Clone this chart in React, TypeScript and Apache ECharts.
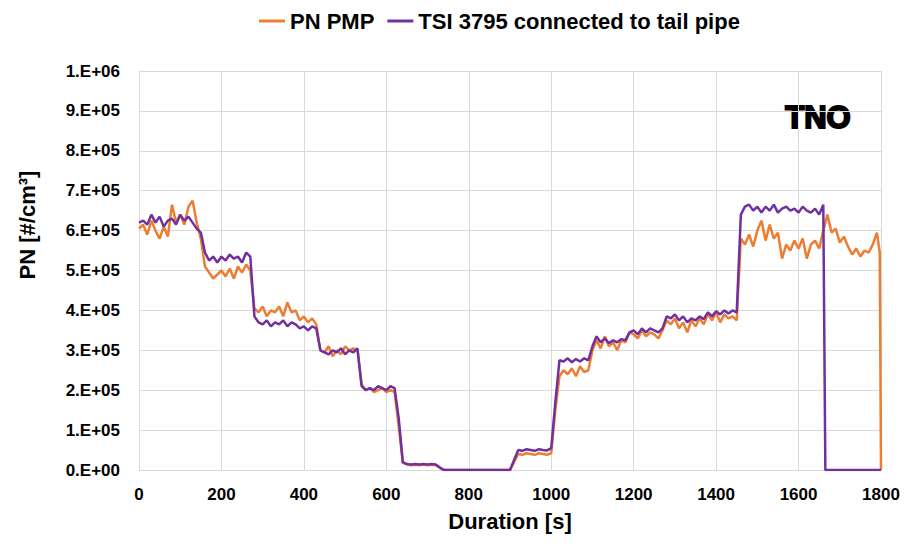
import React, { useEffect, useRef } from "react";
import * as echarts from "echarts";

// Duration [s] sample times
const durationS = [
  0, 10, 20, 30, 40, 50, 60, 70, 80, 90,
  100, 110, 120, 130, 140, 150, 160, 170, 180, 190,
  200, 210, 220, 230, 240, 250, 260, 270, 280, 290,
  300, 310, 320, 330, 340, 350, 360, 370, 380, 390,
  400, 410, 420, 430, 440, 450, 460, 470, 480, 490,
  500, 510, 520, 530, 540, 550, 560, 570, 580, 590,
  600, 610, 620, 630, 640, 650, 660, 670, 680, 690,
  700, 710, 720, 730, 740, 750, 760, 770, 780, 790,
  800, 810, 820, 830, 840, 850, 860, 870, 880, 890,
  900, 910, 920, 930, 940, 950, 960, 970, 980, 990,
  1000, 1010, 1020, 1030, 1040, 1050, 1060, 1070, 1080, 1090,
  1100, 1110, 1120, 1130, 1140, 1150, 1160, 1170, 1180, 1190,
  1200, 1210, 1220, 1230, 1240, 1250, 1260, 1270, 1280, 1290,
  1300, 1310, 1320, 1330, 1340, 1350, 1360, 1370, 1380, 1390,
  1400, 1410, 1420, 1430, 1440, 1450, 1460, 1470, 1480, 1490,
  1500, 1510, 1520, 1530, 1540, 1550, 1560, 1570, 1580, 1590,
  1600, 1610, 1620, 1630, 1640, 1650, 1660,
  1665,
  1670, 1680, 1690, 1700, 1710, 1720, 1730, 1740, 1750, 1760, 1770, 1780, 1790,
  1797, 1800,
];

// PN PMP, thousands of #/cm3
const pnPmpK = [
  605, 615, 590, 625, 600, 580, 610, 585, 665, 620,
  640, 615, 660, 675, 620, 580, 510, 495, 480, 490,
  500, 485, 505, 480, 510, 495, 515, 500, 405, 395,
  410, 385, 400, 395, 410, 385, 420, 395, 400, 375,
  385, 370, 380, 365, 300, 295, 310, 285, 300, 290,
  310, 300, 305, 300, 215, 200, 205, 195, 200, 205,
  195, 200, 195, 110, 18, 14, 12, 13, 12, 14,
  12, 13, 12, 5, 0, 0, 0, 0, 0, 0,
  0, 0, 0, 0, 0, 0, 0, 0, 0, 0,
  0, 20, 40, 38, 42, 40, 38, 42, 40, 38,
  42, 150, 235, 250, 240, 255, 235, 260, 245, 250,
  300, 325, 305, 335, 310, 320, 300, 325, 320, 345,
  340, 330, 350, 335, 345, 340, 330, 350, 375, 365,
  380, 355, 370, 345, 375, 360, 380, 365, 390, 375,
  395, 370, 390, 380, 385, 375, 580, 565, 590, 560,
  600, 625, 575, 615, 580, 595, 530, 565, 550, 575,
  555, 580, 530, 565, 575, 555, 600,
  620,
  640, 595, 605, 570, 585, 560, 540, 555, 535, 550, 545, 565, 595,
  545, 0,
];

// TSI 3795 connected to tail pipe, thousands of #/cm3
const tsiK = [
  620, 625, 615, 640, 620, 635, 610, 625, 630, 615,
  640, 625, 635, 620, 605, 595, 545, 525, 535, 520,
  535, 525, 540, 530, 535, 520, 545, 535, 385, 370,
  365, 375, 360, 370, 365, 375, 360, 370, 365, 355,
  360, 350, 360, 355, 300, 295, 290, 300, 295, 305,
  290, 300, 295, 305, 210, 200, 205, 200, 210, 205,
  200, 210, 205, 130, 20, 15, 14, 15, 14, 15,
  14, 15, 14, 6, 0, 0, 0, 0, 0, 0,
  0, 0, 0, 0, 0, 0, 0, 0, 0, 0,
  0, 25, 50, 48, 52, 50, 48, 52, 50, 49,
  55, 170, 275, 272, 280, 270, 278, 272, 280, 275,
  310, 335, 320, 330, 318, 325, 320, 328, 325, 345,
  350, 340, 355, 345, 355, 350, 345, 355, 385, 380,
  390, 375, 385, 370, 380, 375, 385, 378, 395, 385,
  398, 390, 400, 392, 400, 395, 640, 660, 665, 650,
  660, 645, 660, 650, 665, 645, 655, 660, 650, 655,
  645, 660, 650, 645, 655, 640, 665,
  0,
  0, 0, 0, 0, 0, 0, 0, 0, 0, 0, 0, 0, 0,
  0, 0,
];

const seriesNames = ["PN PMP", "TSI 3795 connected to tail pipe"];
const seriesColors = ["#ED7D31", "#7030A0"];

const FONT = "'Liberation Sans', Arial, sans-serif";

function sciLabel(v: number): string {
  if (v === 0) return "0.E+00";
  const e = Math.floor(Math.log10(v) + 1e-9);
  const m = Math.round(v / Math.pow(10, e));
  return `${m}.E+${e < 10 ? "0" + e : e}`;
}

export default function App() {
  const ref = useRef<HTMLDivElement>(null);
  useEffect(() => {
    if (!ref.current) return;
    const chart = echarts.init(ref.current, undefined, { renderer: "svg" });
    const toData = (arr: number[]) => durationS.map((t, i) => [t, arr[i] * 1000]);
    chart.setOption({
      animation: false,
      backgroundColor: "#ffffff",
      grid: { left: 139, right: 28, top: 71, bottom: 74, containLabel: false },
      legend: {
        left: 254,
        top: 5,
        itemWidth: 26,
        itemHeight: 3,
        itemGap: 13,
        icon: "rect",
        textStyle: { fontFamily: FONT, fontWeight: "bold", fontSize: 22, color: "#000" },
        data: seriesNames,
      },
      xAxis: {
        type: "value",
        min: 0,
        max: 1800,
        interval: 200,
        axisLine: { show: true, lineStyle: { color: "#d9d9d9", width: 1 } },
        axisTick: { show: false },
        splitLine: { show: true, lineStyle: { color: "#d9d9d9", width: 1 } },
        axisLabel: {
          margin: 16,
          fontFamily: FONT,
          fontWeight: "bold",
          fontSize: 17,
          color: "#000",
          formatter: (v: number) => String(v),
        },
      },
      yAxis: {
        type: "value",
        min: 0,
        max: 1000000,
        interval: 100000,
        axisLine: { show: true, lineStyle: { color: "#d9d9d9", width: 1 } },
        axisTick: { show: false },
        splitLine: { show: true, lineStyle: { color: "#d9d9d9", width: 1 } },
        axisLabel: {
          margin: 19,
          fontFamily: FONT,
          fontWeight: "bold",
          fontSize: 17,
          color: "#000",
          formatter: (v: number) => sciLabel(v),
        },
      },
      graphic: [
        {
          type: "text",
          x: 27,
          y: 225,
          rotation: Math.PI / 2,
          style: {
            text: "PN [#/cm³]",
            fontFamily: FONT,
            fontWeight: "bold",
            fontSize: 22,
            fill: "#000",
            textAlign: "center",
            textVerticalAlign: "middle",
          },
        },
        {
          type: "text",
          x: 510,
          y: 521,
          style: {
            text: "Duration [s]",
            fontFamily: FONT,
            fontWeight: "bold",
            fontSize: 22,
            fill: "#000",
            textAlign: "center",
            textVerticalAlign: "middle",
          },
        },
        {
          type: "text",
          x: 818,
          y: 117,
          style: {
            text: "TNO",
            fontFamily: FONT,
            fontWeight: "bold",
            fontSize: 31,
            fill: "#000",
            stroke: "#000",
            lineWidth: 2,
            textAlign: "center",
            textVerticalAlign: "middle",
          },
        },
      ],
      series: [
        {
          name: seriesNames[0],
          type: "line",
          data: toData(pnPmpK),
          showSymbol: false,
          symbol: "none",
          lineStyle: { color: seriesColors[0], width: 2.5 },
          itemStyle: { color: seriesColors[0] },
          z: 2,
        },
        {
          name: seriesNames[1],
          type: "line",
          data: toData(tsiK),
          showSymbol: false,
          symbol: "none",
          lineStyle: { color: seriesColors[1], width: 2.5 },
          itemStyle: { color: seriesColors[1] },
          z: 3,
        },
      ],
    });
    return () => chart.dispose();
  }, []);
  return <div ref={ref} style={{ width: 909, height: 544, position: "absolute", left: 0, top: 0 }} />;
}
